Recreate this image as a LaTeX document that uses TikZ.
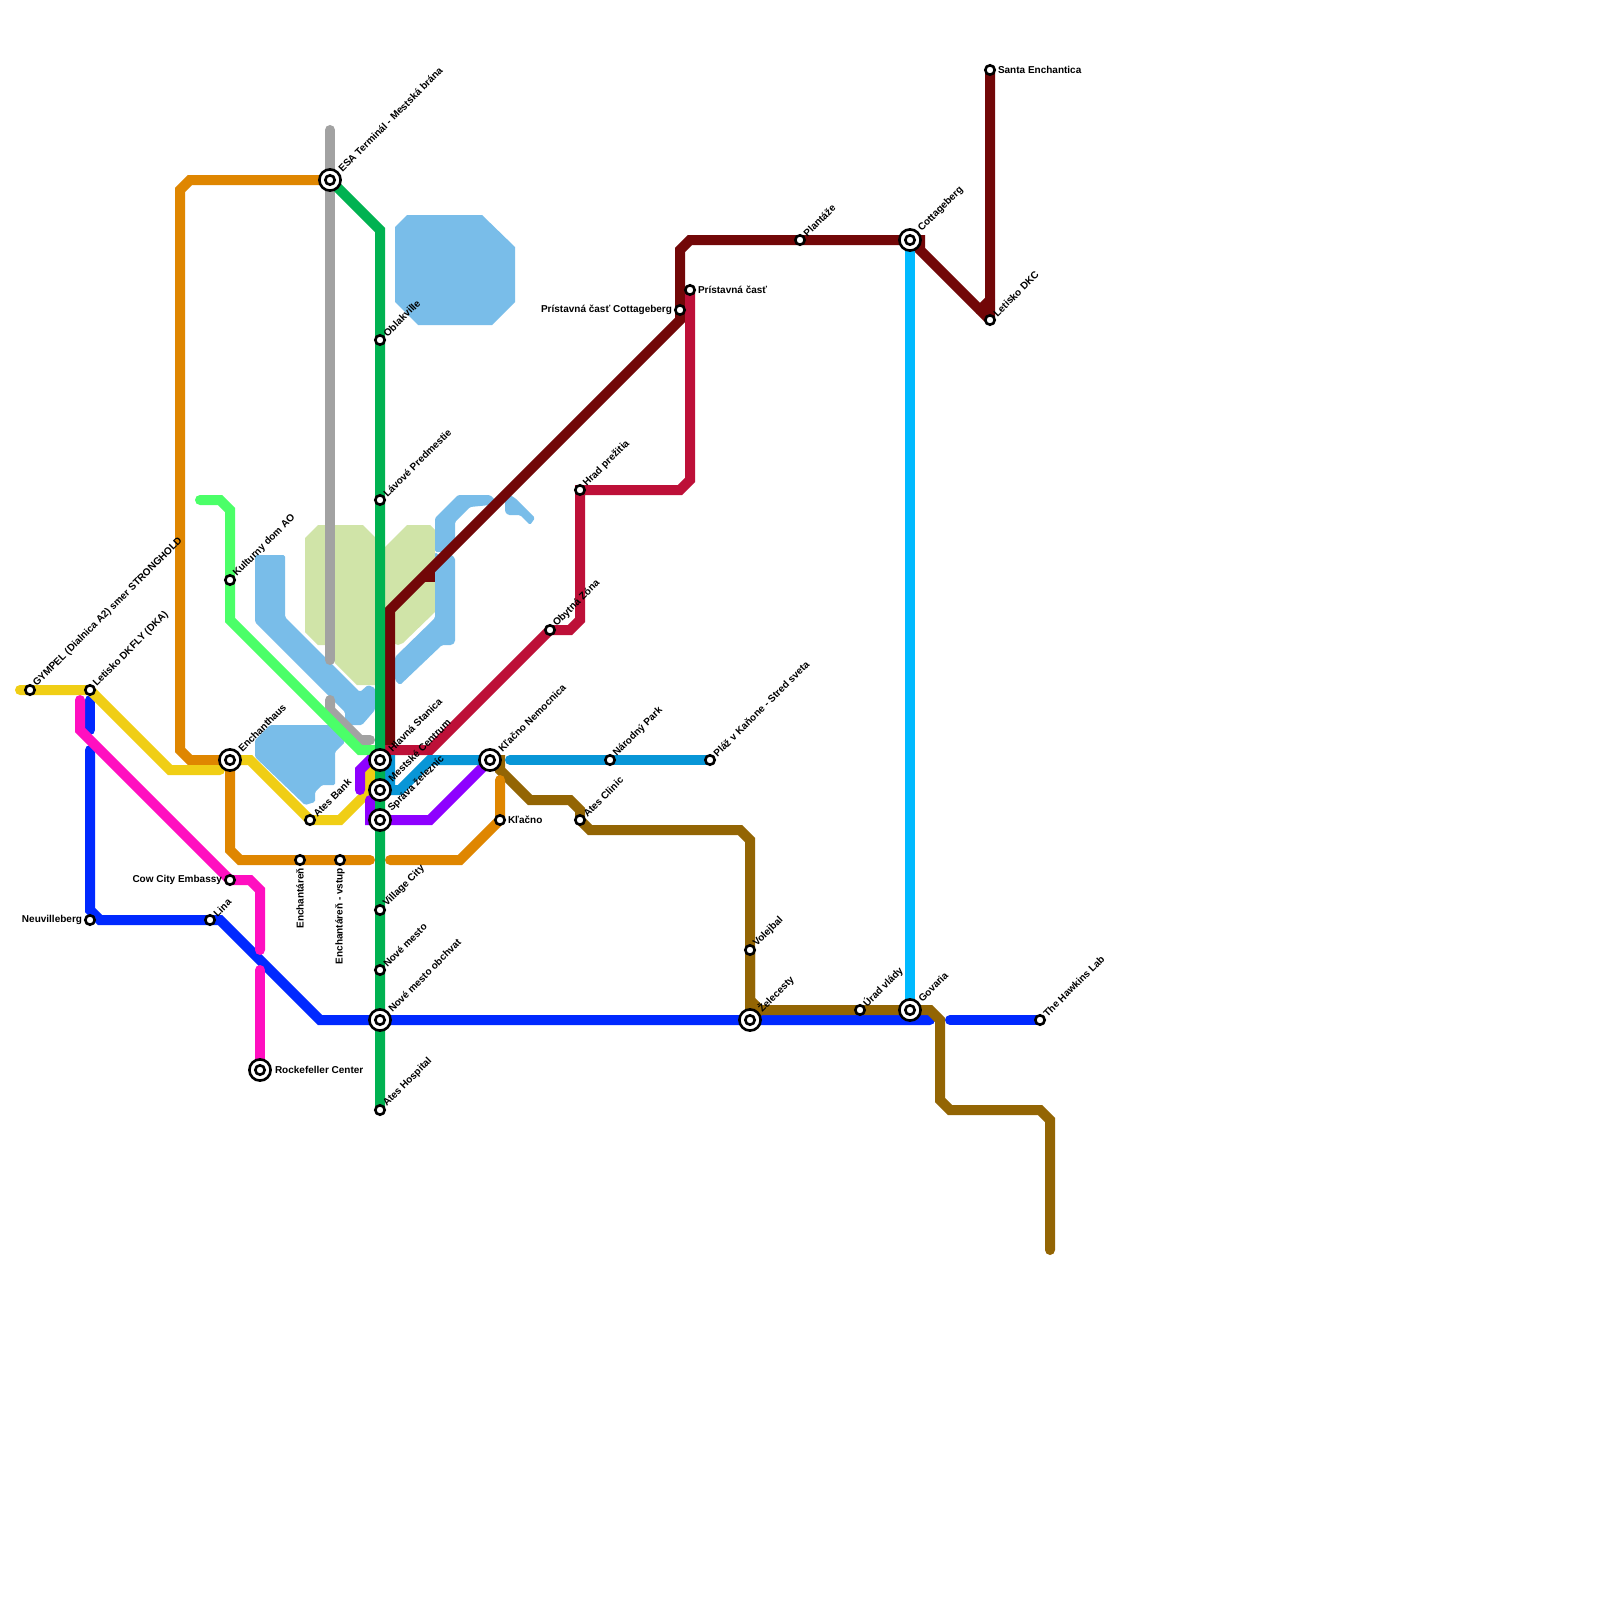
\documentclass[tikz,border=0pt]{standalone}
\usepackage{fontspec}
\setmainfont{Liberation Sans}
\pgfdeclarelayer{under}
\pgfdeclarelayer{ground}
\pgfsetlayers{ground,under,main}
\definecolor{cYel}{HTML}{F0CE15}
\definecolor{cOra}{HTML}{DF8600}
\definecolor{cGrn}{HTML}{00B251}
\definecolor{cGry}{HTML}{A2A2A2}
\definecolor{cLim}{HTML}{4BFF68}
\definecolor{cBlu}{HTML}{0029FF}
\definecolor{cMag}{HTML}{FF0FC0}
\definecolor{cPur}{HTML}{8E00FF}
\definecolor{cTea}{HTML}{0896D7}
\definecolor{cCri}{HTML}{BD1038}
\definecolor{cDrd}{HTML}{720708}
\definecolor{cBrn}{HTML}{936504}
\definecolor{cCya}{HTML}{00BAFF}
\definecolor{cWat}{HTML}{79BDE9}
\definecolor{cPal}{HTML}{D0E4A8}
\tikzset{
  metro/.style={line width=10pt,line cap=round,line join=miter,miter limit=2},
  water/.style={fill=cWat,draw=none},
  park/.style={fill=cPal,draw=none},
  stn/.style={circle,draw=black,fill=white,line width=2.6pt,minimum size=9.4pt,inner sep=0pt,outer sep=0pt},
  hub/.style={circle,draw=black,fill=white,line width=2.6pt,minimum size=21.2pt,inner sep=0pt,outer sep=0pt,
    path picture={\draw[black,line width=2.6pt,fill=white] (path picture bounding box.center) circle (4.7pt);}},
  lab/.style={font=\fontsize{10}{10}\selectfont\bfseries,text=black,inner sep=0pt,outer sep=0pt},
  diag/.style={lab,rotate=45,anchor=west},
  rlab/.style={lab,anchor=west},
  llab/.style={lab,anchor=east},
  dlab/.style={lab,rotate=90,anchor=east}
}
\begin{document}
\begin{tikzpicture}[x=1pt,y=-1pt]
\useasboundingbox (0,0) rectangle (1600,1600);
% stations
\node[stn] (gympel) at (30,690) {};
\node[stn] (dkfly) at (90,690) {};
\node[stn] (neuv) at (90,920) {};
\node[stn] (lina) at (210,920) {};
\node[stn] (cow) at (230,880) {};
\node[hub] (ench) at (230,760) {};
\node[stn] (kult) at (230,580) {};
\node[stn] (bank) at (310,820) {};
\node[stn] (tar) at (300,860) {};
\node[stn] (tarv) at (340,860) {};
\node[hub] (esa) at (330,180) {};
\node[stn] (obl) at (380,340) {};
\node[stn] (lav) at (380,500) {};
\node[hub] (hlav) at (380,760) {};
\node[hub] (mest) at (380,790) {};
\node[hub] (sprava) at (380,820) {};
\node[stn] (vill) at (380,910) {};
\node[stn] (nove) at (380,970) {};
\node[hub] (obch) at (380,1020) {};
\node[stn] (hosp) at (380,1110) {};
\node[hub] (rock) at (260,1070) {};
\node[hub] (knem) at (490,760) {};
\node[stn] (kl) at (500,820) {};
\node[stn] (clin) at (580,820) {};
\node[stn] (obyt) at (550,630) {};
\node[stn] (hrad) at (580,490) {};
\node[stn] (park) at (610,760) {};
\node[stn] (plaz) at (710,760) {};
\node[stn] (pcot) at (680,310) {};
\node[stn] (pris) at (690,290) {};
\node[stn] (plan) at (800,240) {};
\node[hub] (cott) at (910,240) {};
\node[stn] (dkc) at (990,320) {};
\node[stn] (santa) at (990,70) {};
\node[stn] (vol) at (750,950) {};
\node[hub] (zel) at (750,1020) {};
\node[stn] (urad) at (860,1010) {};
\node[hub] (gov) at (910,1010) {};
\node[stn] (hawk) at (1040,1020) {};
% free line ends
\coordinate (yelA) at (20,690);
\coordinate (oraE) at (370,860);
\coordinate (oraF) at (390,860);
\coordinate (grayT) at (330,130);
\coordinate (grayB) at (330,660);
\coordinate (grayC) at (330,700);
\coordinate (limA) at (200,500);
\coordinate (bluA) at (90,700);
\coordinate (bluB) at (90,730);
\coordinate (bluC) at (90,750);
\coordinate (bluE) at (930,1020);
\coordinate (bluF) at (950,1020);
\coordinate (brnE) at (1050,1250);
% water and parks
\begin{pgfonlayer}{ground}
\fill[white] (0,0) rectangle (1600,1600);
\fill[water] (395,227)--(407,215)--(482,215)--(515,247)--(515,302)--(492,325)--(418,325)--(395,302)--cycle;
\fill[park] (305,538)--(318,525)--(363,525)--(375,537)--(375,685)--(357,685)--(335,663)--(325,645)--(318,645)--(305,632)--cycle;
\fill[park] (385,547)--(407,525)--(430,525)--(435,530)--(435,612)--(403,643)--(398,645)--(385,640)--cycle;
\fill[water,rounded corners=1.5pt] (255,555)--(285,555)--(285,617)--(360,692)--(368,685)--(375,688)--(375,710)--(362,725)--(345,725)--(345,712)--(255,622)--cycle;
\fill[water,rounded corners=1.5pt] (255,740)--(270,725)--(335,725)--(345,742)--(335,752)--(335,785)--(322,785)--(315,792)--(315,802)--(305,805)--(255,757)--cycle;
\fill[water,rounded corners=1.5pt] (395,657)--(435,618)--(435,552)--(443,558)--(448,552)--(455,558)--(455,642)--(452,645)--(442,645)--(400,685)--(395,680)--cycle;
\fill[water,rounded corners=1.5pt] (435,552)--(435,518)--(458,495)--(490,495)--(495,500)--(490,505)--(470,507)--(455,522)--(455,543)--(448,552)--cycle;
\fill[water,rounded corners=1.5pt] (505,500)--(510,495)--(515,498)--(535,518)--(530,525)--(520,515)--(508,515)--(505,512)--cycle;
\end{pgfonlayer}
% lines
\begin{pgfonlayer}{under}
\draw[metro,cCya] (cott.center)--(gov.center);
\draw[metro,cBlu] (bluA)--(bluB);
\draw[metro,cBlu] (bluC)--(90,910)--(100,920)--(lina.center)--(220,920)--(320,1020)--(obch.center)--(zel.center)--(bluE);
\draw[metro,cBlu] (bluF)--(hawk.center);
\draw[metro,cBrn] (knem.center)--(500,760)--(500,770)--(530,800)--(570,800)--(580,810)--(clin.center)--(590,830)--(740,830)--(750,840)--(vol.center)--(zel.center);
\draw[metro,cBrn] (zel.center)--(760,1010)--(urad.center)--(gov.center)--(930,1010)--(940,1020)--(940,1100)--(950,1110)--(1040,1110)--(1050,1120)--(brnE);
\draw[metro,cBrn] (vol.center)--(750,1000)--(760,1010);
\draw[metro,cMag] (80,700)--(80,730)--(cow.center)--(250,880)--(260,890)--(260,950);
\draw[metro,cMag] (260,970)--(rock.center);
\draw[metro,cOra] (esa.center)--(190,180)--(180,190)--(180,750)--(190,760)--(ench.center)--(230,850)--(240,860)--(tar.center)--(tarv.center)--(oraE);
\draw[metro,cOra] (oraF)--(460,860)--(kl.center)--(500,780);
\draw[metro,cYel] (yelA)--(gympel.center)--(dkfly.center)--(170,770)--(220,770);
\draw[metro,cYel] (ench.center)--(250,760)--(bank.center)--(340,820)--(370,790)--(370,770);
\draw[metro,cGry] (grayT)--(grayB);
\draw[metro,cGry] (grayC)--(330,710)--(360,740)--(370,740);
\draw[metro,cLim] (limA)--(220,500)--(230,510)--(kult.center)--(230,620)--(360,750)--(380,750);
\draw[metro,cPur] (hlav.center)--(370,760)--(360,770)--(360,790);
\draw[metro,cPur] (370,800)--(370,820)--(sprava.center)--(430,820)--(knem.center);
\draw[metro,cDrd] (390,750)--(390,610)--(680,320)--(pcot.center)--(680,250)--(690,240)--(plan.center)--(cott.center)--(920,240)--(920,250)--(dkc.center)--(santa.center);
\draw[metro,cDrd] (980,310)--(990,300);
\draw[metro,cDrd,line cap=butt] (430,582)--(430,572);
\draw[metro,cCri] (hlav.center)--(380,750)--(430,750)--(obyt.center)--(570,630)--(580,620)--(hrad.center)--(590,490)--(680,490)--(690,480)--(pris.center);
\draw[metro,cTea] (hlav.center)--(390,760)--(390,790)--(400,790)--(430,760)--(knem.center);
\draw[metro,cTea] (510,760)--(park.center)--(plaz.center);
\draw[metro,cGrn] (esa.center)--(380,230)--(obl.center)--(lav.center)--(hlav.center)--(mest.center)--(sprava.center)--(vill.center)--(nove.center)--(obch.center)--(hosp.center);
\end{pgfonlayer}
% labels
\node[diag] at ([shift={(5,-5)}]gympel.center) {GYMPEL (Dialnica A2) smer STRONGHOLD};
\node[diag] at ([shift={(5,-5)}]dkfly.center) {Letisko DKFLY (DKA)};
\node[diag] at ([shift={(5,-5)}]kult.center) {Kulturny dom AO};
\node[diag] at ([shift={(10,-10)}]ench.center) {Enchanthaus};
\node[diag] at ([shift={(5,-5)}]lina.center) {Lina};
\node[diag] at ([shift={(5,-5)}]bank.center) {Ates Bank};
\node[diag] at ([shift={(10,-10)}]esa.center) {ESA Terminál - Mestská brána};
\node[diag] at ([shift={(5,-5)}]obl.center) {Oblakville};
\node[diag] at ([shift={(5,-5)}]lav.center) {Lávové Predmestie};
\node[diag] at ([shift={(10,-10)}]hlav.center) {Hlavná Stanica};
\node[diag] at ([shift={(10,-10)}]mest.center) {Mestské Centrum};
\node[diag] at ([shift={(10,-10)}]sprava.center) {Správa železníc};
\node[diag] at ([shift={(5,-5)}]vill.center) {Village City};
\node[diag] at ([shift={(5,-5)}]nove.center) {Nové mesto};
\node[diag] at ([shift={(10,-10)}]obch.center) {Nové mesto obchvat};
\node[diag] at ([shift={(5,-5)}]hosp.center) {Ates Hospital};
\node[diag] at ([shift={(10,-10)}]knem.center) {Kľačno Nemocnica};
\node[diag] at ([shift={(5,-5)}]clin.center) {Ates Clinic};
\node[diag] at ([shift={(5,-5)}]obyt.center) {Obytná Zóna};
\node[diag] at ([shift={(5,-5)}]hrad.center) {Hrad prežitia};
\node[diag] at ([shift={(5,-5)}]park.center) {Národný Park};
\node[diag] at ([shift={(5,-5)}]plaz.center) {Pláž v Kaňone - Stred sveta};
\node[diag] at ([shift={(5,-5)}]plan.center) {Plantáže};
\node[diag] at ([shift={(10,-10)}]cott.center) {Cottageberg};
\node[diag] at ([shift={(5,-5)}]dkc.center) {Letisko DKC};
\node[diag] at ([shift={(5,-5)}]vol.center) {Volejbal};
\node[diag] at ([shift={(10,-10)}]zel.center) {Želecesty};
\node[diag] at ([shift={(5,-5)}]urad.center) {Úrad vlády};
\node[diag] at ([shift={(10,-10)}]gov.center) {Govaria};
\node[diag] at ([shift={(5,-5)}]hawk.center) {The Hawkins Lab};
\node[rlab] at ([xshift=8]santa.center) {Santa Enchantica};
\node[rlab] at ([xshift=8]pris.center) {Prístavná časť};
\node[rlab] at ([xshift=8]kl.center) {Kľačno};
\node[rlab] at ([xshift=15]rock.center) {Rockefeller Center};
\node[llab] at ([xshift=-8]cow.center) {Cow City Embassy};
\node[llab] at ([xshift=-8]neuv.center) {Neuvilleberg};
\node[llab] at ([xshift=-8]pcot.center) {Prístavná časť Cottageberg};
\node[dlab] at ([yshift=-8pt]tar.center) {Enchantáreň};
\node[dlab] at ([yshift=-8pt]tarv.center) {Enchantáreň - vstup};
\end{tikzpicture}
\end{document}
